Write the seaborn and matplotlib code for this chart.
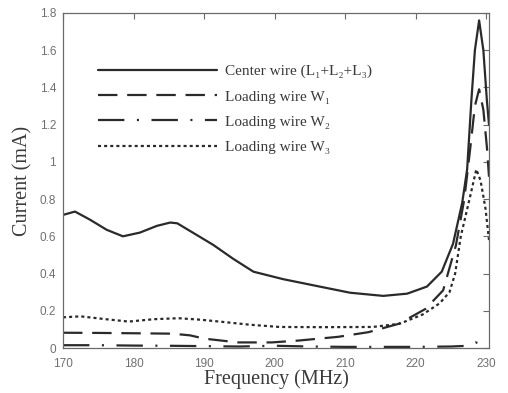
import numpy as np
import pandas as pd
import matplotlib
matplotlib.use("Agg")
import matplotlib.pyplot as plt
import seaborn as sns

# ---- data ----
center_f = [170, 171.7, 173.8, 176.2, 178.5, 180.9, 183.3, 185.2, 186.2, 188.4, 191.3, 194.1,
            197, 201.2, 206, 210.7, 215.4, 218.8, 221.6, 223.7, 225.3, 226.6, 227.3, 227.9,
            228.4, 229.0, 229.6, 230.1, 230.4]
center_v = [0.715, 0.733, 0.69, 0.635, 0.60, 0.62, 0.656, 0.674, 0.67, 0.62, 0.554, 0.48,
            0.41, 0.37, 0.333, 0.297, 0.28, 0.292, 0.33, 0.41, 0.56, 0.78, 0.96, 1.33,
            1.6, 1.76, 1.6, 1.33, 1.2]

w1_f = [170, 175, 180.6, 185.5, 188, 190.1, 194.8, 199.6, 203.4, 209, 213.3, 217.6, 221.4,
        223.9, 225.7, 226.9, 227.7, 228.4, 229.0, 229.6, 230.1, 230.4]
w1_v = [0.082, 0.081, 0.079, 0.077, 0.068, 0.05, 0.03, 0.03, 0.04, 0.06, 0.085, 0.13, 0.21,
        0.31, 0.55, 0.80, 1.06, 1.30, 1.39, 1.28, 1.08, 0.92]

w2_f = [170, 175, 180, 185, 190, 195, 200, 205, 210, 215, 220, 225, 227.5, 228.5, 229.5, 230.4]
w2_v = [0.015, 0.015, 0.013, 0.012, 0.01, 0.008, 0.012, 0.008, 0.006, 0.006, 0.006, 0.008,
        0.012, 0.03, 0.02, 0.005]

w3_f = [170, 172.5, 176, 179.3, 183, 186.4, 189.5, 192.7, 196.5, 200.7, 207, 213.9, 217.7,
        221, 223.4, 224.8, 225.6, 226.4, 227.7, 228.6, 229.2, 229.9, 230.4]
w3_v = [0.165, 0.17, 0.155, 0.142, 0.155, 0.16, 0.152, 0.14, 0.125, 0.113, 0.112, 0.113, 0.13,
        0.18, 0.24, 0.30, 0.40, 0.60, 0.81, 0.96, 0.90, 0.75, 0.58]

labels = ["Center wire (L\u2081+L\u2082+L\u2083)", "Loading wire W\u2081",
          "Loading wire W\u2082", "Loading wire W\u2083"]

x_ticks = [170, 180, 190, 200, 210, 220, 230]
y_ticks = [0, 0.2, 0.4, 0.6, 0.8, 1.0, 1.2, 1.4, 1.6, 1.8]
y_tick_labels = ["0", "0.2", "0.4", "0.6", "0.8", "1", "1.2", "1.4", "1.6", "1.8"]

# ---- styling ----
sns.set_style("white")
plt.rcParams["lines.scale_dashes"] = False
serif = ["Liberation Serif", "DejaVu Serif"]
sans = ["Liberation Sans", "DejaVu Sans"]

line_color = "#2a2a2a"
frame_color = "#6a6a6a"
tick_text = "#707070"

fig = plt.figure(figsize=(5.08, 3.93), dpi=100)
ax = fig.add_axes([0.124, 0.1145, 0.8386, 0.8525])

series = [
    (center_f, center_v, labels[0], "-"),
    (w1_f, w1_v, labels[1], (0, (14, 7))),
    (w2_f, w2_v, labels[2], (0, (19, 9, 1.5, 9))),
    (w3_f, w3_v, labels[3], (0, (2.2, 2.2))),
]
for f, v, lab, ls in series:
    df = pd.DataFrame({"Frequency": f, "Current": v})
    sns.lineplot(data=df, x="Frequency", y="Current", ax=ax, label=lab,
                 color=line_color, linewidth=1.6, linestyle=ls, sort=True)

ax.set_xlim(170, 230.4)
ax.set_ylim(0, 1.8)
ax.set_xticks(x_ticks)
ax.set_xticklabels([str(t) for t in x_ticks], fontfamily=sans, fontsize=8.5, color=tick_text)
ax.set_yticks(y_ticks)
ax.set_yticklabels(y_tick_labels, fontfamily=sans, fontsize=8.5, color=tick_text)
ax.tick_params(direction="in", top=True, right=True, length=4, width=0.8,
               color=frame_color)
ax.tick_params(axis="x", pad=7)
ax.tick_params(axis="y", pad=5)
for s in ax.spines.values():
    s.set_color(frame_color)
    s.set_linewidth(0.9)

ax.set_xlabel("Frequency (MHz)", fontfamily=serif, fontsize=14.5, color="#3a3a3a", labelpad=0)
ax.set_ylabel("Current (mA)", fontfamily=serif, fontsize=14.5, color="#3a3a3a", labelpad=5)

leg = ax.legend(loc="upper left", bbox_to_anchor=(0.082, 0.846), frameon=False,
                borderaxespad=0, borderpad=0, handlelength=7.8, handletextpad=0.5,
                labelspacing=0.75, prop={"family": serif, "size": 11})
for t in leg.get_texts():
    t.set_color("#3a3a3a")

fig.savefig("out.png", dpi=100)
